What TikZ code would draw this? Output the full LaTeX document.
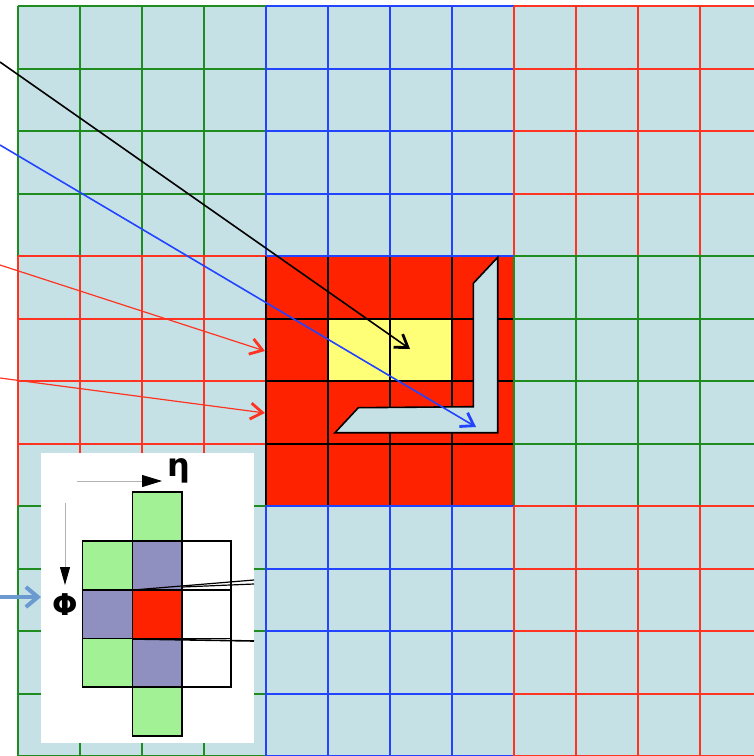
\documentclass[tikz,border=0pt]{standalone}
\usepackage{fontspec}
\newfontfamily\greekfont{DejaVu Sans}
\usetikzlibrary{arrows.meta}

\definecolor{cellbg}{HTML}{C5E1E6}
\definecolor{gridgreen}{HTML}{1E8C1E}
\definecolor{gridblue}{HTML}{2244FF}
\definecolor{gridred}{HTML}{FF3322}
\definecolor{hotred}{HTML}{FF2200}
\definecolor{coreyellow}{HTML}{FFFF77}
\definecolor{padgreen}{HTML}{A2F194}
\definecolor{padpurple}{HTML}{8F8FC0}
\definecolor{steel}{HTML}{6A9ACF}

% one 4x4 block of cells: row, column, colour
\newcommand{\tileblock}[3]{%
  \foreach \k in {0,...,4}{
    \draw[#3, line width=1pt] ({18+(4*#2+\k)*62},{6+4*#1*62.5}) -- ++(0,250);
    \draw[#3, line width=1pt] ({18+4*#2*62},{6+(4*#1+\k)*62.5}) -- ++(248,0);
  }}

\begin{document}
\begin{tikzpicture}[x=0.5pt,y=-0.5pt,
  hit/.style={line width=0.8pt, -{Straight Barb[length=6pt,width=8pt,line width=1.4pt]}},
  pad/.style={draw=black, line width=0.8pt}]
  \useasboundingbox (0,0) rectangle (754,756);
  \clip (0,0) rectangle (754,756);

  \fill[cellbg] (18,6) rectangle (754,756);

  % calorimeter towers
  \tileblock{0}{0}{gridgreen}
  \tileblock{0}{1}{gridblue}
  \tileblock{0}{2}{gridred}
  \tileblock{1}{0}{gridred}
  \fill[hotred] (266,256) rectangle (514,506);
  \fill[coreyellow] (328,318.5) rectangle (452,381);
  \tileblock{1}{1}{black}
  \draw[gridblue, line width=1pt] (266,256) -- (514,256);
  \tileblock{1}{2}{gridgreen}
  \tileblock{2}{0}{gridgreen}
  \tileblock{2}{1}{gridblue}
  \tileblock{2}{2}{gridred}

  % isolation region
  \filldraw[fill=cellbg, draw=black, line width=0.8pt]
    (497.7,257.3) -- (473.3,283.3) -- (473.3,406.7) -- (358.3,407.7)
    -- (335,432.7) -- (497.7,432.7) -- cycle;

  \coordinate (blackfrom) at (0,62);
  \coordinate (blackto) at (410,349);
  \coordinate (bluefrom) at (0,145);
  \coordinate (blueto) at (476,427);
  \coordinate (redfromA) at (0,265);
  \coordinate (redtoA) at (265,351);
  \coordinate (redfromB) at (0,378);
  \coordinate (redtoB) at (265,413);
  \coordinate (steelfrom) at (0,597);
  \coordinate (steelto) at (41,597);

  \draw[hit, black] (blackfrom) -- (blackto);
  \draw[hit, gridblue] (bluefrom) -- (blueto);
  \draw[hit, gridred, line width=0.6pt] (redfromA) -- (redtoA);
  \draw[hit, gridred, line width=0.6pt] (redfromB) -- (redtoB);

  % inset
  \fill[white] (41,453) rectangle (254,743);
  \filldraw[pad, fill=padgreen] (132.3,491.7) rectangle (181.7,540.7);
  \filldraw[pad, fill=padgreen] (82.3,540.7) rectangle (132.3,590);
  \filldraw[pad, fill=padpurple] (132.3,540.7) rectangle (181.7,590);
  \filldraw[pad, fill=white] (181.7,540.7) rectangle (231,590);
  \filldraw[pad, fill=padpurple] (82.3,590) rectangle (132.3,638.3);
  \filldraw[pad, fill=hotred] (132.3,590) rectangle (181.7,638.3);
  \filldraw[pad, fill=white] (181.7,590) rectangle (231,638.3);
  \filldraw[pad, fill=padgreen] (82.3,638.3) rectangle (132.3,686.7);
  \filldraw[pad, fill=padpurple] (132.3,638.3) rectangle (181.7,686.7);
  \filldraw[pad, fill=white] (181.7,638.3) rectangle (231,686.7);
  \filldraw[pad, fill=padgreen] (132.3,686.7) rectangle (181.7,735.7);

  \draw[black, line width=0.6pt] (133,590) -- (254,580);
  \draw[black, line width=0.6pt] (182,587) -- (254,584);
  \draw[black, line width=0.8pt] (133,639) -- (254,641);

  \draw[gray!60, line width=0.4pt, -{Triangle[color=black,length=10pt,width=6pt]}]
    (77,481) -- (162,481);
  \draw[gray!60, line width=0.4pt, -{Triangle[color=black,length=9pt,width=5pt]}]
    (65,503) -- (65,585);
  \node[anchor=base, inner sep=0pt] (eta) at (179,476)
    {\fontsize{16}{18}\selectfont\greekfont\bfseries η};
  \node[anchor=base, inner sep=0pt] (phi) at (65,615)
    {\fontsize{15}{17}\selectfont\greekfont\bfseries Φ};

  \draw[steel, line width=2pt, -{Straight Barb[length=6pt,width=10pt,line width=2pt]}]
    (steelfrom) -- (steelto);
\end{tikzpicture}
\end{document}
